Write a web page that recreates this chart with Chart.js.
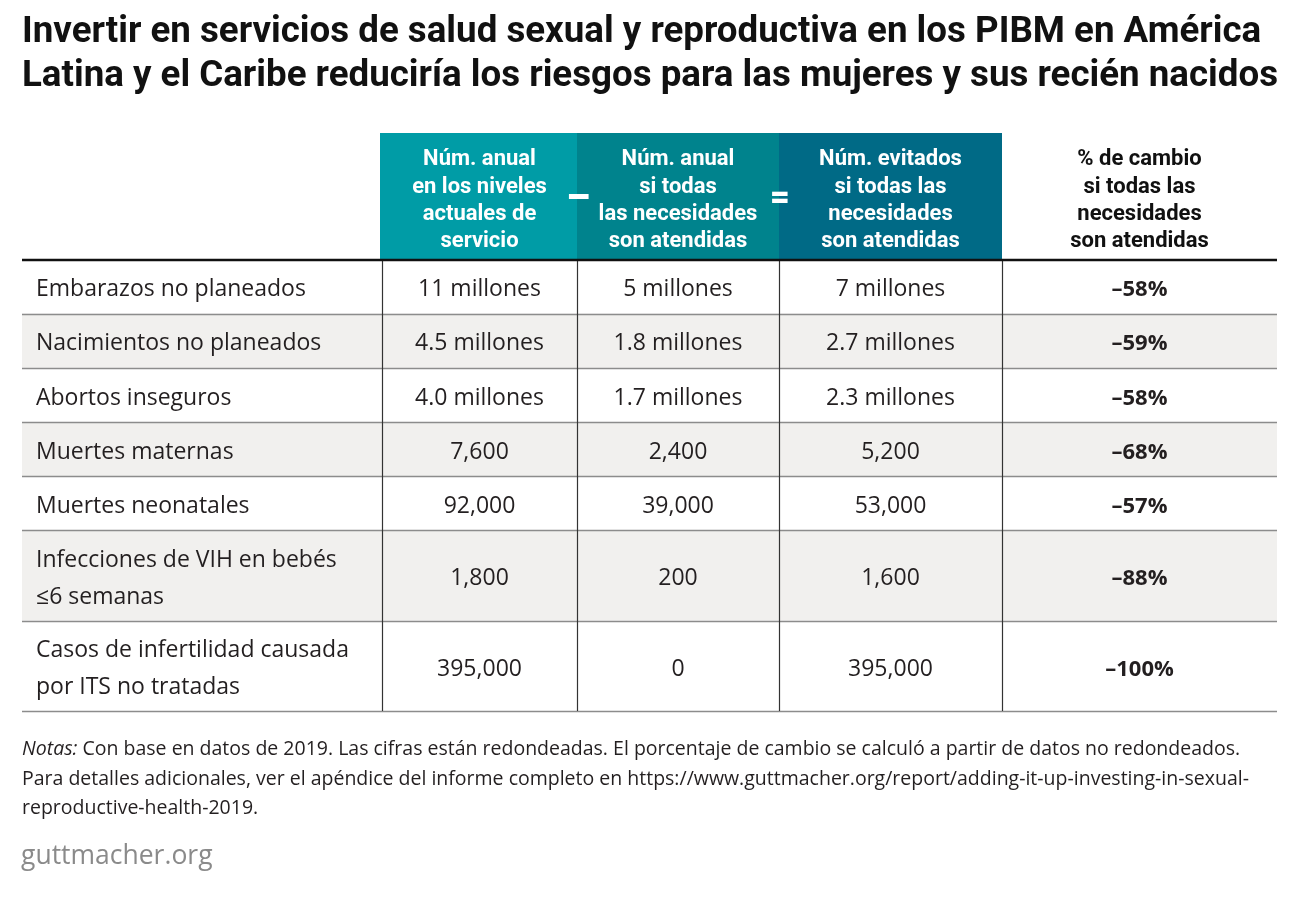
<!DOCTYPE html>
<html>
<head>
<meta charset="utf-8">
<script src="https://cdn.jsdelivr.net/npm/chart.js@4.4.1/dist/chart.umd.min.js"></script>
<style>
  html, body { margin: 0; padding: 0; background: #ffffff; }
  #wrap { width: 1300px; height: 900px; position: relative; }
  canvas { display: block; }
</style>
</head>
<body>
<div id="wrap"><canvas id="chart" width="1300" height="900"></canvas></div>
<script>
// ---------- DATA ----------
const titleLines = [
  "Invertir en servicios de salud sexual y reproductiva en los PIBM en América",
  "Latina y el Caribe reduciría los riesgos para las mujeres y sus recién nacidos"
];
const columnHeaders = [
  ["Núm. anual", "en los niveles", "actuales de", "servicio"],
  ["Núm. anual", "si todas", "las necesidades", "son atendidas"],
  ["Núm. evitados", "si todas las", "necesidades", "son atendidas"],
  ["% de cambio", "si todas las", "necesidades", "son atendidas"]
];
const rowLabels = [
  ["Embarazos no planeados"],
  ["Nacimientos no planeados"],
  ["Abortos inseguros"],
  ["Muertes maternas"],
  ["Muertes neonatales"],
  ["Infecciones de VIH en bebés", "≤6 semanas"],
  ["Casos de infertilidad causada", "por ITS no tratadas"]
];
const currentLevels = ["11 millones", "4.5 millones", "4.0 millones", "7,600", "92,000", "1,800", "395,000"];
const allNeedsMet   = ["5 millones", "1.8 millones", "1.7 millones", "2,400", "39,000", "200", "0"];
const averted       = ["7 millones", "2.7 millones", "2.3 millones", "5,200", "53,000", "1,600", "395,000"];
const pctChange     = [-58, -59, -58, -68, -57, -88, -100];
const notesLines = [
  ["Notas:", " Con base en datos de 2019. Las cifras están redondeadas. El porcentaje de cambio se calculó a partir de datos no redondeados."],
  ["", "Para detalles adicionales, ver el apéndice del informe completo en https://www.guttmacher.org/report/adding-it-up-investing-in-sexual-"],
  ["", "reproductive-health-2019."]
];
const sourceLabel = "guttmacher.org";

// ---------- LAYOUT / STYLE ----------
const colWidths = [360, 195, 202, 223, 275];          // table column widths (layout units)
const colEdges = colWidths.reduce((a, w) => { a.push(a[a.length - 1] + w); return a; }, [0]);
const TABLE_W = colEdges[colEdges.length - 1];
const HEADER_UNITS = 7;
const rowUnits = rowLabels.map(l => 1 + 2 * l.length);
const rowStarts = rowUnits.reduce((a, u) => { a.push(a[a.length - 1] + u); return a; }, [HEADER_UNITS]);
const TOTAL_UNITS = rowStarts[rowStarts.length - 1];
const headerColors = ["#009ca6", "#00838d", "#006a86"];
const shadeColor = "#f1f0ee";
const textColor = "#231f20";
const BODY = '"Open Sans", sans-serif';
const HEAD = 'Roboto, sans-serif';

function fmtPct(v) { return (v < 0 ? "\u2013" : "") + Math.abs(v) + "%"; }

const tablePlugin = {
  id: "tableDraw",
  afterDraw(chart) {
    const { ctx, scales: { x, y } } = chart;
    const X = u => x.getPixelForValue(u);
    const Y = u => y.getPixelForValue(u);
    ctx.save();

    // shaded rows
    rowLabels.forEach((_, i) => {
      if (i % 2 === 1) {
        ctx.fillStyle = shadeColor;
        ctx.fillRect(X(0), Y(rowStarts[i]), X(TABLE_W) - X(0), Y(rowStarts[i + 1]) - Y(rowStarts[i]));
      }
    });

    // header boxes
    headerColors.forEach((c, k) => {
      ctx.fillStyle = c;
      const x0 = X(colEdges[k + 1]) - (k === 0 ? 2 : 0);
      ctx.fillRect(x0, Y(0), X(colEdges[k + 2]) - x0, Y(HEADER_UNITS) - Y(0));
    });

    // row separators
    ctx.strokeStyle = "#8c8c8c";
    ctx.lineWidth = 1.3;
    for (let i = 1; i <= rowLabels.length; i++) {
      const yy = Math.round(Y(rowStarts[i])) + 0.5;
      ctx.beginPath(); ctx.moveTo(X(0), yy); ctx.lineTo(X(TABLE_W), yy); ctx.stroke();
    }
    // vertical lines
    ctx.strokeStyle = "#333333";
    ctx.lineWidth = 1.2;
    for (let k = 1; k < colEdges.length - 1; k++) {
      const xx = Math.round(X(colEdges[k])) + 0.5;
      ctx.beginPath(); ctx.moveTo(xx, Y(HEADER_UNITS)); ctx.lineTo(xx, Y(TOTAL_UNITS)); ctx.stroke();
    }
    // thick header rule
    ctx.strokeStyle = "#111111";
    ctx.lineWidth = 2.6;
    ctx.beginPath(); ctx.moveTo(X(0), Y(HEADER_UNITS) + 0.5); ctx.lineTo(X(TABLE_W), Y(HEADER_UNITS) + 0.5); ctx.stroke();

    // header texts
    const hc = (Y(0) + Y(HEADER_UNITS)) / 2;
    ctx.textAlign = "center";
    ctx.textBaseline = "alphabetic";
    ctx.font = "bold 22px " + HEAD;
    columnHeaders.forEach((lines, k) => {
      const cx = (X(colEdges[k + 1]) + X(colEdges[k + 2])) / 2;
      ctx.fillStyle = k < 3 ? "#ffffff" : "#111111";
      lines.forEach((t, i) => {
        ctx.fillText(t, cx, hc + 10 + (i - (lines.length - 1) / 2) * 27.3);
      });
    });
    // operators
    ctx.fillStyle = "#ffffff";
    ctx.font = "900 38px " + HEAD;
    ctx.fillText("\u2013", X(colEdges[2]) + 1, hc + 14);
    ctx.font = "900 34px " + HEAD;
    ctx.fillText("=", X(colEdges[3]) + 1, hc + 12);

    // body
    const fs = 23;
    const LS = 37;
    rowLabels.forEach((lines, i) => {
      const cy = (Y(rowStarts[i]) + Y(rowStarts[i + 1])) / 2 + 1.5;
      ctx.fillStyle = textColor;
      ctx.font = fs + "px " + BODY;
      ctx.textAlign = "left";
      lines.forEach((t, j) => {
        ctx.fillText(t, X(colEdges[0]) + 14, cy + 0.36 * fs + (j - (lines.length - 1) / 2) * LS);
      });
      ctx.textAlign = "center";
      const base = cy + 0.36 * fs;
      [currentLevels, allNeedsMet, averted].forEach((arr, k) => {
        const cx = (X(colEdges[k + 1]) + X(colEdges[k + 2])) / 2;
        ctx.fillText(arr[i], cx, base);
      });
      ctx.font = "bold " + (fs - 1) + "px " + BODY;
      ctx.fillText(fmtPct(pctChange[i]), (X(colEdges[4]) + X(colEdges[5])) / 2, base);
    });

    // title
    ctx.fillStyle = "#111111";
    ctx.textAlign = "left";
    ctx.font = "bold 37px " + HEAD;
    const w2 = ctx.measureText(titleLines[1]).width;
    const sx = Math.min(1, 1256 / w2);
    [42, 86].forEach((by, i) => {
      ctx.save();
      ctx.translate(22, by);
      ctx.scale(sx, 1);
      ctx.fillText(titleLines[i], 0, 0);
      ctx.restore();
    });

    // notes
    ctx.fillStyle = textColor;
    [755, 785, 814].forEach((by, i) => {
      let xx = 22;
      const [it, rest] = notesLines[i];
      if (it) {
        ctx.font = "italic 19.5px " + BODY;
        ctx.fillText(it, xx, by);
        xx += ctx.measureText(it).width;
      }
      ctx.font = "19.5px " + BODY;
      ctx.fillText(rest, xx, by);
    });
    ctx.fillStyle = "#8a8a8a";
    ctx.font = "26.5px " + BODY;
    ctx.fillText(sourceLabel, 21, 864);

    ctx.restore();
  }
};

new Chart(document.getElementById("chart"), {
  type: "scatter",
  data: { datasets: [{ data: [], pointRadius: 0 }] },
  options: {
    responsive: false,
    animation: false,
    devicePixelRatio: 1,
    layout: { padding: { left: 22, right: 23, top: 133, bottom: 189 } },
    plugins: { legend: { display: false }, tooltip: { enabled: false }, title: { display: false } },
    scales: {
      x: { type: "linear", min: 0, max: TABLE_W, display: false },
      y: { type: "linear", min: 0, max: TOTAL_UNITS, reverse: true, display: false }
    }
  },
  plugins: [tablePlugin]
});
</script>
</body>
</html>
